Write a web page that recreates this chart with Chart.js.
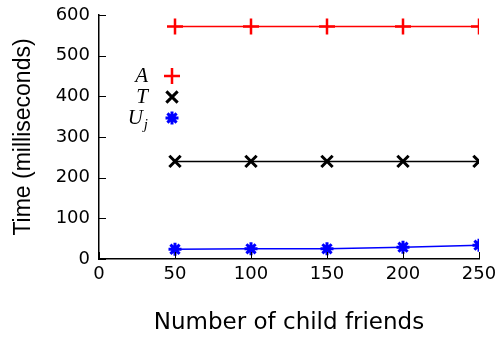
<!DOCTYPE html>
<html>
<head>
<meta charset="utf-8">
<script src="https://cdn.jsdelivr.net/npm/chart.js@4"></script>
<style>
  html, body { margin: 0; padding: 0; background: #fff; }
  #wrap { width: 504px; height: 337px; }
</style>
</head>
<body>
<div id="wrap"><canvas id="chart" width="504" height="337"></canvas></div>
<script>
const friends = [50, 100, 150, 200, 250];
const seriesA = [572, 572, 572, 572, 572];
const seriesT = [240, 240, 240, 240, 240];
const seriesU = [24, 25, 25, 29, 34];
const xTicks = [0, 50, 100, 150, 200, 250];
const yTicks = [0, 100, 200, 300, 400, 500, 600];

const toPoints = vals => vals.map((v, i) => ({ x: friends[i], y: v }));

const tickFont = { family: '"DejaVu Sans", sans-serif', size: 18 };

// Petits traits de graduation vers l'intérieur
const innerTicks = {
    id: 'innerTicks',
    afterDraw(chart) {
        const ctx = chart.ctx;
        const { x, y } = chart.scales;
        ctx.save();
        ctx.strokeStyle = '#000';
        ctx.lineWidth = 1;
        yTicks.forEach(v => {
            const py = Math.round(y.getPixelForValue(v)) + 0.5;
            ctx.beginPath();
            ctx.moveTo(x.left, py);
            ctx.lineTo(x.left + 7, py);
            ctx.stroke();
        });
        xTicks.forEach(v => {
            const px = Math.round(x.getPixelForValue(v)) + 0.5;
            ctx.beginPath();
            ctx.moveTo(px, y.bottom);
            ctx.lineTo(px, y.bottom - 7);
            ctx.stroke();
        });
        ctx.restore();
    }
};

// Légende à la gnuplot : texte italique + marqueur seul
const gnuLegend = {
    id: 'gnuLegend',
    afterDraw(chart) {
        const ctx = chart.ctx;
        const rows = [
            { label: 'A', sub: '', ds: chart.data.datasets[0], y: 76 },
            { label: 'T', sub: '', ds: chart.data.datasets[1], y: 97 },
            { label: 'U', sub: 'j', ds: chart.data.datasets[2], y: 118 }
        ];
        ctx.save();
        rows.forEach(r => {
            ctx.fillStyle = '#000';
            ctx.textBaseline = 'middle';
            ctx.textAlign = 'right';
            let right = 148;
            if (r.sub) {
                ctx.font = 'italic 15px "Liberation Serif", serif';
                ctx.fillText(r.sub, right, r.y + 7);
                right -= ctx.measureText(r.sub).width + 1;
            }
            ctx.font = 'italic 21px "Liberation Serif", serif';
            ctx.fillText(r.label, right, r.y);
            ctx.strokeStyle = r.ds.borderColor;
            ctx.fillStyle = r.ds.borderColor;
            ctx.lineWidth = r.ds.pointBorderWidth;
            Chart.helpers.drawPoint(ctx, {
                pointStyle: r.ds.pointStyle,
                radius: r.ds.pointRadius,
                rotation: 0,
                borderWidth: r.ds.pointBorderWidth
            }, 172, r.y);
        });
        ctx.restore();
    }
};

new Chart(document.getElementById('chart'), {
    type: 'line',
    data: {
        datasets: [
            {
                label: 'A',
                data: toPoints(seriesA),
                borderColor: '#ff0000',
                backgroundColor: '#ff0000',
                borderWidth: 1.5,
                pointStyle: 'cross',
                pointRadius: 8,
                pointBorderWidth: 2.5
            },
            {
                label: 'T',
                data: toPoints(seriesT),
                borderColor: '#000000',
                backgroundColor: '#000000',
                borderWidth: 1.5,
                pointStyle: 'crossRot',
                pointRadius: 8,
                pointBorderWidth: 3
            },
            {
                label: 'Uj',
                data: toPoints(seriesU),
                borderColor: '#0000ff',
                backgroundColor: '#0000ff',
                borderWidth: 1.5,
                pointStyle: 'star',
                pointRadius: 6.5,
                pointBorderWidth: 3
            }
        ]
    },
    options: {
        responsive: false,
        animation: false,
        layout: { padding: { top: 15, right: 25, left: 0, bottom: 0 } },
        plugins: {
            legend: { display: false },
            tooltip: { enabled: false }
        },
        scales: {
            x: {
                type: 'linear',
                min: 0,
                max: 250,
                afterFit(scale) {
                    scale.height = 78;
                    scale.paddingLeft = 0;
                    scale.paddingRight = 0;
                },
                afterBuildTicks(scale) { scale.ticks = xTicks.map(v => ({ value: v })); },
                grid: { display: false, drawTicks: false },
                border: { display: true, color: '#000', width: 1.5 },
                ticks: {
                    color: '#000',
                    padding: 5,
                    maxRotation: 0,
                    font: tickFont
                },
                title: {
                    display: true,
                    text: 'Number of child friends',
                    color: '#000',
                    padding: { top: 4, bottom: 0 },
                    font: { family: '"DejaVu Sans", sans-serif', size: 23 }
                }
            },
            y: {
                min: 0,
                max: 600,
                afterFit(scale) {
                    scale.width = 99;
                    scale.paddingTop = 0;
                    scale.paddingBottom = 0;
                },
                afterBuildTicks(scale) { scale.ticks = yTicks.map(v => ({ value: v })); },
                grid: { display: false, drawTicks: false },
                border: { display: true, color: '#000', width: 1.5 },
                ticks: {
                    color: '#000',
                    padding: 9,
                    font: tickFont
                },
                title: {
                    display: true,
                    text: 'Time (milliseconds)',
                    color: '#000',
                    padding: { top: 9.5, bottom: 0 },
                    font: { family: '"Liberation Sans", Arial, sans-serif', size: 23 }
                }
            }
        }
    },
    plugins: [innerTicks, gnuLegend]
});
</script>
</body>
</html>
